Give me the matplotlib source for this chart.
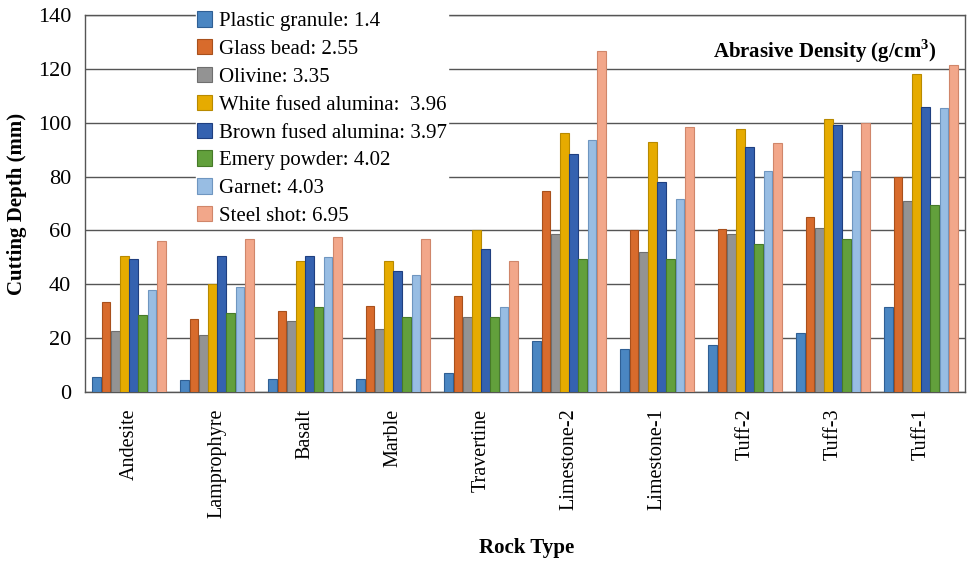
import numpy as np
import matplotlib
matplotlib.use("Agg")
import matplotlib.pyplot as plt

rocks = ["Andesite", "Lamprophyre", "Basalt", "Marble", "Travertine",
         "Limestone-2", "Limestone-1", "Tuff-2", "Tuff-3", "Tuff-1"]
abrasives = ["Plastic granule: 1.4", "Glass bead: 2.55", "Olivine: 3.35",
             "White fused alumina:  3.96", "Brown fused alumina: 3.97",
             "Emery powder: 4.02", "Garnet: 4.03", "Steel shot: 6.95"]

plastic = [5.5, 4.5, 5, 5, 7, 19, 16, 17.5, 22, 31.5]
glass = [33.5, 27, 30, 32, 35.5, 74.5, 60, 60.5, 65, 80]
olivine = [22.5, 21, 26.5, 23.5, 28, 58.5, 52, 58.5, 61, 71]
white_alumina = [50.5, 40, 48.5, 48.5, 60, 96, 93, 97.5, 101.5, 118]
brown_alumina = [49.5, 50.5, 50.5, 45, 53, 88.5, 78, 91, 99, 106]
emery = [28.5, 29.5, 31.5, 28, 28, 49.5, 49.5, 55, 57, 69.5]
garnet = [38, 39, 50, 43.5, 31.5, 93.5, 71.5, 82, 82, 105.5]
steel = [56, 57, 57.5, 57, 48.5, 126.5, 98.5, 92.5, 100, 121.5]

series = [plastic, glass, olivine, white_alumina, brown_alumina, emery, garnet, steel]
colors = ["#4a86c2", "#d86b2c", "#939393", "#e6ab00", "#3562b0", "#62a03c", "#98bde3", "#f2a78a"]
edges = ["#2f5f94", "#a8501c", "#6f6f6f", "#b88a00", "#1f3f80", "#467a28", "#6f96c0", "#d0866a"]

serif = ["Liberation Serif", "DejaVu Serif"]
plt.rcParams["font.family"] = serif
plt.rcParams["mathtext.fontset"] = "custom"
plt.rcParams["mathtext.rm"] = "Liberation Serif"
plt.rcParams["mathtext.bf"] = "Liberation Serif:bold"

fig = plt.figure(figsize=(9.73, 5.63), dpi=100)
ax = fig.add_axes([85 / 973, 1 - 392 / 563, 880 / 973, 377 / 563])

x = np.arange(len(rocks))
w = 0.105
for i, (vals, c, e) in enumerate(zip(series, colors, edges)):
    ax.bar(x + (i - 3.5) * w, vals, w * 0.95, color=c, edgecolor=e,
           linewidth=0.8, label=abrasives[i], zorder=3)

ax.set_xlim(-0.5, len(rocks) - 0.5)
ax.set_ylim(0, 140)
ax.set_yticks(range(0, 141, 20))
ax.yaxis.grid(True, color="#555555", linewidth=1.0, zorder=0)
ax.set_axisbelow(True)
ax.tick_params(axis="y", length=0, labelsize=16, pad=10)
ax.tick_params(axis="x", length=0, pad=12)
ax.set_xticks(x)
ax.set_xticklabels(rocks, rotation=90, fontsize=14.5)
for s in ax.spines.values():
    s.set_color("#555555")
    s.set_linewidth(1.0)

fig.text(527 / 973, 1 - 548 / 563, "Rock Type", ha="center", va="center",
         fontsize=15, fontweight="bold")
ax.set_ylabel("Cutting Depth (mm)", fontsize=15, fontweight="bold", labelpad=8)

leg = ax.legend(loc="upper left", bbox_to_anchor=(0.114, 1.04), fontsize=15,
                frameon=True, facecolor="white", edgecolor="white", framealpha=1,
                fancybox=False, handlelength=0.75, handleheight=0.75, handletextpad=0.3,
                labelspacing=0.38, borderpad=0.05)
leg.set_zorder(5)

ax.text(0.968, 0.905, "Abrasive Density (g/cm$^{\\mathbf{3}}$)", transform=ax.transAxes,
        ha="right", va="center", fontsize=15, fontweight="bold", zorder=6)

fig.savefig("out.png", dpi=100)
